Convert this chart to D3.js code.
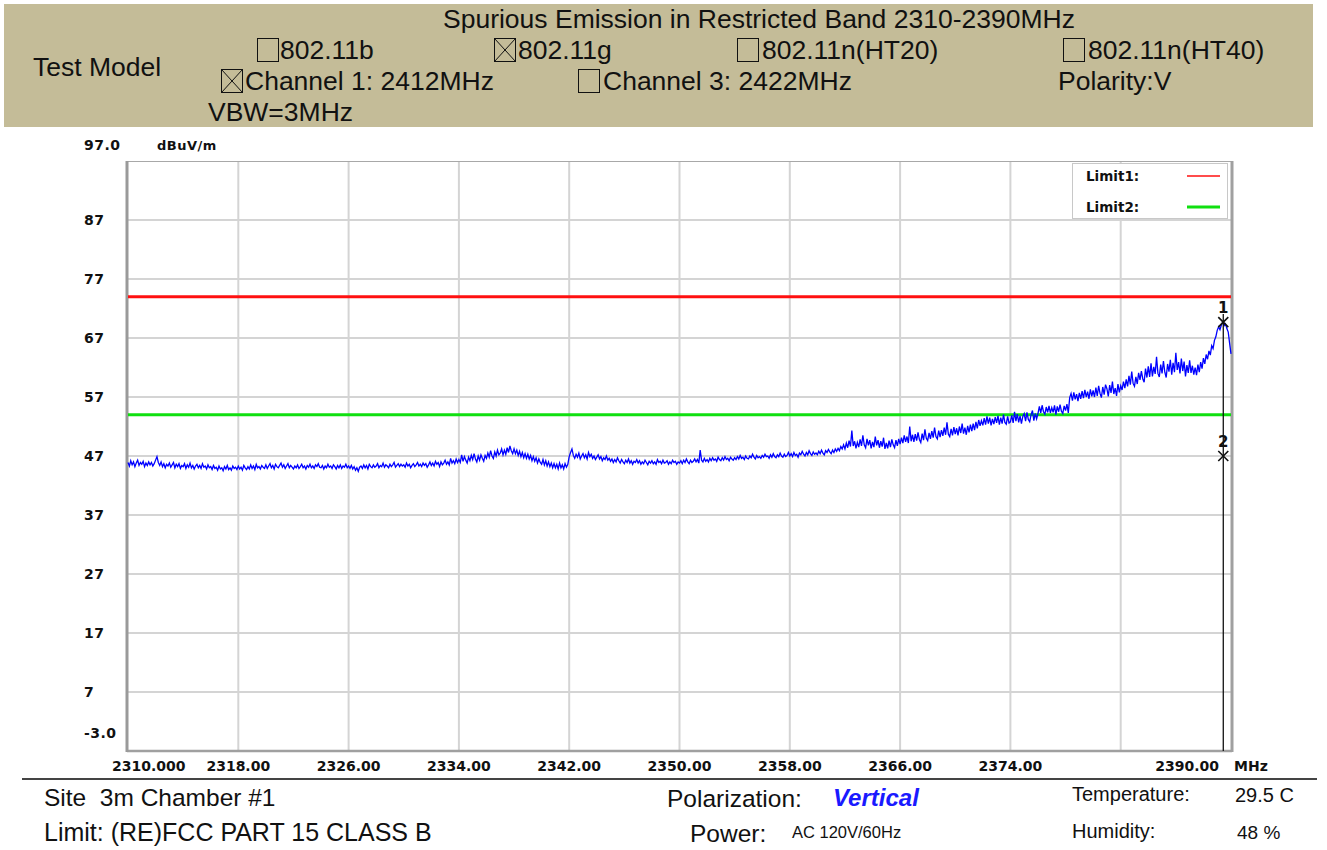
<!DOCTYPE html>
<html>
<head>
<meta charset="utf-8">
<script src="https://cdn.jsdelivr.net/npm/d3@7"></script>
<style>
  html, body { margin: 0; padding: 0; background: #ffffff; }
  svg { display: block; }
  text { white-space: pre; }
</style>
</head>
<body>
<svg id="chart" width="1327" height="850"></svg>
<script>
// ---- Sweep settings (MHz) ----
const freqStart = 2310;
const freqStop = 2390;
const freqStep = 0.1;

// ---- Measured level (dBuV/m), one array per 8 MHz grid division, 10 points per MHz ----
const seg2310 = [
  45.9,45.3,46.2,45.5,46.0,45.2,45.8,46.3,45.4,45.9,
  45.6,46.1,45.2,45.8,45.4,46.0,45.5,45.9,45.3,45.7,
  46.3,46.9,45.9,45.4,46.0,45.2,45.7,45.0,45.6,45.3,
  45.8,45.1,45.5,45.9,45.0,45.6,45.2,45.7,44.9,45.4,
  45.2,45.7,44.9,45.5,45.1,45.8,45.0,45.4,44.8,45.3,
  45.6,45.0,45.4,44.9,45.7,45.1,45.3,44.8,45.5,45.0,
  45.2,44.7,45.4,44.9,45.1,44.6,45.3,44.8,45.0,44.5,
  45.2,44.8,45.4,44.7,45.0,44.6,45.3,44.9,45.1,44.7];
const seg2318 = [
  45.3,44.8,45.1,44.6,45.4,45.0,44.7,45.2,44.8,45.5,
  44.9,45.3,44.7,45.6,45.0,45.2,44.8,45.4,45.1,44.9,
  45.5,44.9,45.3,45.7,45.0,45.4,44.8,45.6,45.2,45.0,
  45.4,45.8,45.1,45.5,44.9,45.3,45.7,45.0,45.4,45.1,
  44.8,45.3,45.0,45.5,44.9,45.2,45.6,45.0,45.3,44.8,
  45.4,45.1,45.6,45.0,45.3,44.9,45.5,45.2,45.7,45.1,
  45.0,45.4,44.8,45.3,45.0,45.6,45.1,45.3,44.9,45.5,
  45.2,44.8,45.4,45.0,45.5,44.9,45.3,45.1,45.6,45.0];
const seg2326 = [
  45.3,44.9,45.4,44.8,45.2,44.6,45.0,44.4,45.1,45.3,
  44.9,45.5,45.0,45.4,44.8,45.6,45.2,45.0,45.5,45.1,
  45.3,45.7,45.0,45.4,45.2,45.8,45.1,45.5,45.3,45.0,
  45.6,45.2,45.5,45.9,45.1,45.4,45.7,45.2,45.6,45.3,
  45.5,45.1,45.8,45.3,45.6,45.0,45.4,45.7,45.2,45.5,
  45.9,45.3,45.6,45.2,45.8,45.4,45.7,45.1,45.5,46.0,
  45.4,45.8,45.3,46.1,45.6,45.9,45.2,46.0,45.5,45.8,
  46.3,45.6,46.0,45.5,46.6,45.8,46.2,45.7,46.5,45.9];
const seg2334 = [
  46.4,45.9,47.2,46.1,46.9,46.3,45.8,46.8,46.2,47.1,
  46.4,47.4,46.5,46.0,47.0,46.3,47.2,46.6,46.1,47.1,
  46.6,47.5,46.8,47.9,47.0,46.6,47.7,47.0,48.0,47.2,
  47.5,48.2,47.2,48.0,47.3,48.4,47.6,48.7,47.9,47.4,
  48.2,47.4,48.0,47.1,47.8,46.9,47.6,46.7,47.4,46.6,
  47.3,46.5,47.1,46.2,46.9,46.1,46.7,45.8,46.5,45.9,
  45.6,46.4,45.5,46.2,45.3,46.0,45.2,45.8,45.0,45.7,
  45.0,45.6,44.8,45.8,45.0,45.5,44.8,45.7,45.1,45.6];
const seg2342 = [
  46.9,47.6,48.2,47.1,46.6,47.3,46.8,47.5,46.5,47.0,
  47.4,46.7,47.2,46.5,47.6,46.9,47.3,46.6,47.0,46.4,
  46.8,47.2,46.5,46.9,46.2,46.7,46.4,47.0,46.3,46.6,
  46.1,46.5,45.9,46.4,46.0,46.7,46.2,45.8,46.4,46.0,
  45.7,46.3,45.9,46.5,45.8,46.2,45.6,46.1,45.9,46.4,
  45.8,46.2,45.6,46.0,45.7,46.3,45.9,45.5,46.1,45.8,
  46.2,45.7,46.0,45.6,46.4,45.9,46.1,45.7,46.3,45.8,
  45.9,46.2,45.6,46.0,45.7,46.3,45.9,46.1,45.6,46.0];
const seg2350 = [
  45.8,46.2,45.7,46.3,45.9,46.5,46.0,45.7,46.3,45.9,
  46.1,46.5,46.0,46.4,45.8,48.0,46.3,46.0,46.6,46.1,
  46.4,46.0,46.6,46.2,46.7,46.3,46.5,46.1,46.8,46.4,
  46.2,46.7,46.3,46.9,46.4,46.6,46.2,46.8,46.5,46.3,
  46.7,46.4,46.9,46.5,47.1,46.6,46.8,46.4,47.0,46.6,
  46.5,47.0,46.7,47.3,46.8,46.5,47.1,46.7,46.9,46.6,
  47.1,46.8,47.3,46.9,47.0,46.6,47.2,46.8,47.4,46.9,
  46.7,47.2,46.9,47.5,47.0,46.8,47.3,46.9,47.1,47.6];
const seg2358 = [
  47.0,47.4,46.9,47.6,47.1,47.3,46.8,47.5,47.2,47.8,
  47.3,47.0,47.6,47.2,47.9,47.4,47.1,47.7,47.3,47.5,
  47.2,47.8,47.4,48.0,47.5,47.2,47.9,47.6,48.1,47.7,
  47.4,48.0,47.6,48.2,47.8,48.3,47.9,48.6,48.2,48.9,
  48.2,49.2,48.4,49.6,48.6,51.3,48.7,49.5,48.3,49.3,
  48.5,49.8,48.7,50.5,48.9,48.4,49.9,48.8,49.7,48.3,
  49.4,48.5,50.3,48.8,49.7,48.4,49.5,48.6,50.1,48.2,
  49.2,48.3,49.6,48.5,49.8,48.9,48.4,49.7,48.7,49.9];
const seg2366 = [
  49.0,50.1,49.2,50.5,49.4,50.3,49.2,52.0,49.5,50.6,
  49.4,50.7,49.6,51.0,49.8,49.3,50.8,49.7,51.5,50.0,
  49.6,50.9,49.9,51.2,50.1,51.8,50.3,49.9,51.3,50.2,
  51.4,50.4,51.8,50.6,52.7,50.7,50.3,51.6,50.5,51.9,
  50.7,51.7,50.5,52.0,50.9,52.5,50.8,51.8,50.6,52.1,
  51.0,52.3,51.2,52.5,51.4,52.8,51.7,53.1,52.1,53.0,
  52.2,53.4,52.3,53.7,52.5,53.5,52.2,53.3,52.4,53.6,
  52.6,53.8,52.3,53.5,52.5,54.0,52.7,52.4,53.7,52.6];
const seg2374 = [
  52.8,53.9,52.6,54.5,52.9,54.1,52.7,53.8,52.5,53.7,
  54.2,52.9,54.4,53.2,52.8,54.0,54.7,53.0,54.2,53.3,
  54.2,55.4,54.3,55.6,54.5,54.1,55.3,54.4,55.5,54.3,
  55.2,54.4,55.6,54.0,55.4,54.5,55.7,54.6,54.2,55.5,
  54.7,55.8,54.3,56.9,57.6,56.4,57.8,56.6,57.5,56.3,
  57.7,56.7,58.0,56.8,58.2,57.0,57.9,56.7,58.3,57.1,
  58.1,57.0,58.6,57.2,58.9,57.6,56.9,58.7,57.4,59.1,
  58.4,57.1,59.0,57.7,59.6,57.5,58.5,57.2,59.2,57.8];
const seg2382 = [
  58.9,58.2,59.6,58.5,60.0,58.8,60.6,59.1,61.3,59.3,
  58.8,60.4,59.2,61.1,59.9,61.4,60.1,59.5,61.8,60.3,
  62.2,60.4,62.7,60.5,62.1,60.9,63.8,61.0,60.4,62.5,
  61.0,63.1,61.2,60.3,62.6,61.3,63.3,60.8,62.8,61.2,
  64.5,61.6,62.9,61.0,63.5,61.4,63.0,60.5,62.4,61.1,
  63.2,61.1,62.3,60.8,62.0,60.7,62.5,61.2,62.9,61.8,
  63.6,62.6,64.2,63.4,64.8,64.1,65.7,65.2,66.6,67.2,
  68.3,68.9,68.4,69.2,69.7,69.1,69.4,68.6,68.0,66.1,
  64.3];

// ---- Limits (dBuV/m) ----
const limitNames = ["Limit1:", "Limit2:"];
const limitLevels = [74, 54];
const limitColors = ["#ff1010", "#10e010"];

// ---- Markers ----
const markerIds = ["1", "2"];
const markerFreqs = [2389.44, 2389.44];
const markerLevels = [69.7, 47.0];

// ---- Axis ticks ----
const yTickValues = [97, 87, 77, 67, 57, 47, 37, 27, 17, 7, -3];
const yTickLabels = ["97.0", "87", "77", "67", "57", "47", "37", "27", "17", "7", "-3.0"];
const xGridValues = [2318, 2326, 2334, 2342, 2350, 2358, 2366, 2374, 2382];
const xTickValues = [2310, 2318, 2326, 2334, 2342, 2350, 2358, 2366, 2374, 2390];
const xTickLabels = ["2310.000", "2318.00", "2326.00", "2334.00", "2342.00", "2350.00", "2358.00", "2366.00", "2374.00", "2390.00"];

const levels = [].concat(seg2310, seg2318, seg2326, seg2334, seg2342,
                         seg2350, seg2358, seg2366, seg2374, seg2382);
const trace = levels.map((v, i) => ({ f: freqStart + i * freqStep, v }));

const svg = d3.select("#chart");
const sans = "'Liberation Sans', Arial, sans-serif";
const bitmapFont = "'DejaVu Sans', Verdana, sans-serif";

// ---- Header panel ----
svg.append("rect").attr("x", 4).attr("y", 4).attr("width", 1309).attr("height", 123)
  .attr("fill", "#c4bc98");

const header = svg.append("g").attr("font-family", sans).attr("font-size", 26.5).attr("fill", "#111");
header.append("text").attr("x", 443).attr("y", 28).text("Spurious Emission in Restricted Band 2310-2390MHz");
header.append("text").attr("x", 33).attr("y", 76).text("Test Model");

const checkItems = [
  { box: 257, text: 280, base: 59, label: "802.11b", on: false },
  { box: 494, text: 518, base: 59, label: "802.11g", on: true },
  { box: 737, text: 762, base: 59, label: "802.11n(HT20)", on: false },
  { box: 1063, text: 1088, base: 59, label: "802.11n(HT40)", on: false },
  { box: 221, text: 245, base: 90, label: "Channel 1: 2412MHz", on: true },
  { box: 578, text: 603, base: 90, label: "Channel 3: 2422MHz", on: false }
];
checkItems.forEach(c => {
  const bx = c.box + 0.5, by = c.base - 20.5, bw = 21, bh = 23;
  header.append("rect").attr("x", bx).attr("y", by).attr("width", bw).attr("height", bh)
    .attr("fill", "none").attr("stroke", "#111").attr("stroke-width", 1);
  if (c.on) {
    header.append("path")
      .attr("d", `M${bx},${by}L${bx + bw},${by + bh}M${bx + bw},${by}L${bx},${by + bh}`)
      .attr("stroke", "#111").attr("stroke-width", 1).attr("fill", "none");
  }
  header.append("text").attr("x", c.text).attr("y", c.base).text(c.label);
});
header.append("text").attr("x", 1058).attr("y", 90).text("Polarity:V");
header.append("text").attr("x", 208).attr("y", 121).text("VBW=3MHz");

// ---- Plot scales ----
const x = d3.scaleLinear().domain([freqStart, freqStop]).range([128, 1231]);
const y = d3.scaleLinear().domain([-3, 97]).range([751, 161]);

const plot = svg.append("g");

// grid
plot.selectAll("line.hgrid").data(yTickValues.slice(1, -1)).join("line")
  .attr("x1", x(freqStart)).attr("x2", x(freqStop))
  .attr("y1", d => y(d)).attr("y2", d => y(d))
  .attr("stroke", "#d4d4d4").attr("stroke-width", 2);
plot.selectAll("line.vgrid").data(xGridValues).join("line")
  .attr("x1", d => x(d)).attr("x2", d => x(d))
  .attr("y1", y(97)).attr("y2", y(-3))
  .attr("stroke", "#d4d4d4").attr("stroke-width", 2);

// frame
plot.append("line").attr("x1", x(freqStart)).attr("x2", x(freqStop))
  .attr("y1", y(97) + 0.5).attr("y2", y(97) + 0.5).attr("stroke", "#a8a8a8").attr("stroke-width", 1);
plot.append("line").attr("x1", x(freqStart) - 1).attr("x2", x(freqStop) + 1)
  .attr("y1", y(-3)).attr("y2", y(-3)).attr("stroke", "#a0a0a0").attr("stroke-width", 2.5);
plot.append("line").attr("x1", x(freqStart) - 1).attr("x2", x(freqStart) - 1)
  .attr("y1", y(97)).attr("y2", y(-3) + 1).attr("stroke", "#9a9a9a").attr("stroke-width", 3);
plot.append("line").attr("x1", x(freqStop) + 1).attr("x2", x(freqStop) + 1)
  .attr("y1", y(97)).attr("y2", y(-3) + 1).attr("stroke", "#a0a0a0").attr("stroke-width", 3);

// limit lines
plot.selectAll("line.limit").data(limitLevels).join("line")
  .attr("x1", x(freqStart)).attr("x2", x(freqStop))
  .attr("y1", d => y(d)).attr("y2", d => y(d))
  .attr("stroke", (d, i) => limitColors[i]).attr("stroke-width", 3);

// measured trace
const line = d3.line().x(d => x(d.f)).y(d => y(d.v));
plot.append("path").datum(trace).attr("d", line)
  .attr("fill", "none").attr("stroke", "#0000ff").attr("stroke-width", 1.3)
  .attr("stroke-linejoin", "miter");

// markers
const mx = x(markerFreqs[0]);
plot.append("line").attr("x1", mx).attr("x2", mx)
  .attr("y1", y(markerLevels[0]) - 8).attr("y2", y(-3))
  .attr("stroke", "#111").attr("stroke-width", 1.3);
markerIds.forEach((id, i) => {
  const cx = x(markerFreqs[i]), cy = y(markerLevels[i]);
  plot.append("path")
    .attr("d", `M${cx - 5},${cy - 5}L${cx + 5},${cy + 5}M${cx + 5},${cy - 5}L${cx - 5},${cy + 5}`)
    .attr("stroke", "#111").attr("stroke-width", 1.6).attr("fill", "none");
  plot.append("text").attr("x", cx).attr("y", cy - 9)
    .attr("text-anchor", "middle").attr("font-family", bitmapFont)
    .attr("font-weight", "bold").attr("font-size", 15).attr("fill", "#111").text(id);
});

// legend
const legend = svg.append("g");
legend.append("rect").attr("x", 1072.5).attr("y", 163.5).attr("width", 155).attr("height", 55)
  .attr("fill", "#fff").attr("stroke", "#c8c8c8").attr("stroke-width", 1);
limitNames.forEach((name, i) => {
  const ly = 176 + i * 31;
  legend.append("text").attr("x", 1086).attr("y", ly).attr("dy", "0.35em")
    .attr("font-family", bitmapFont).attr("font-weight", "bold").attr("font-size", 13.5)
    .attr("fill", "#111").text(name);
  legend.append("line").attr("x1", 1187).attr("x2", 1220).attr("y1", ly).attr("y2", ly)
    .attr("stroke", limitColors[i]).attr("stroke-width", i === 0 ? 1.6 : 3);
});

// y axis labels
const yLab = svg.append("g").attr("font-family", bitmapFont).attr("font-weight", "bold")
  .attr("font-size", 14).attr("fill", "#111").attr("letter-spacing", 0.5);
yTickValues.forEach((v, i) => {
  let off = 0;
  if (i === 0) off = -16;
  if (i === yTickValues.length - 1) off = -18;
  yLab.append("text").attr("x", 84).attr("y", y(v) + off).attr("dy", "0.36em").text(yTickLabels[i]);
});
yLab.append("text").attr("x", 157).attr("y", y(97) - 16).attr("dy", "0.36em")
  .attr("font-size", 13).text("dBuV/m");

// x axis labels
const xLab = svg.append("g").attr("font-family", bitmapFont).attr("font-weight", "bold")
  .attr("font-size", 14).attr("fill", "#111");
xTickValues.forEach((v, i) => {
  let anchor = "middle", px = x(v);
  if (i === 0) { anchor = "start"; px = x(v) - 16; }
  if (i === xTickValues.length - 1) { anchor = "end"; px = x(v) - 12; }
  xLab.append("text").attr("x", px).attr("y", 771).attr("text-anchor", anchor).text(xTickLabels[i]);
});
xLab.append("text").attr("x", 1234).attr("y", 771).text("MHz");

// ---- Footer ----
svg.append("line").attr("x1", 22).attr("x2", 1317).attr("y1", 779).attr("y2", 779)
  .attr("stroke", "#444").attr("stroke-width", 2);
const foot = svg.append("g").attr("font-family", sans).attr("fill", "#111");
foot.append("text").attr("x", 44).attr("y", 806).attr("font-size", 24.5).text("Site  3m Chamber #1");
foot.append("text").attr("x", 44).attr("y", 841).attr("font-size", 25).text("Limit: (RE)FCC PART 15 CLASS B");
foot.append("text").attr("x", 667).attr("y", 807).attr("font-size", 24.5).text("Polarization:");
foot.append("text").attr("x", 833).attr("y", 806).attr("font-size", 24).attr("font-weight", "bold")
  .attr("font-style", "italic").attr("fill", "#1a1aff").text("Vertical");
foot.append("text").attr("x", 690).attr("y", 842).attr("font-size", 24.5).text("Power:");
foot.append("text").attr("x", 792).attr("y", 838).attr("font-size", 16.5).text("AC 120V/60Hz");
foot.append("text").attr("x", 1072).attr("y", 801).attr("font-size", 20).text("Temperature:");
foot.append("text").attr("x", 1235).attr("y", 802).attr("font-size", 20).text("29.5 C");
foot.append("text").attr("x", 1072).attr("y", 838).attr("font-size", 20).text("Humidity:");
foot.append("text").attr("x", 1237).attr("y", 839).attr("font-size", 19).text("48 %");
</script>
</body>
</html>
